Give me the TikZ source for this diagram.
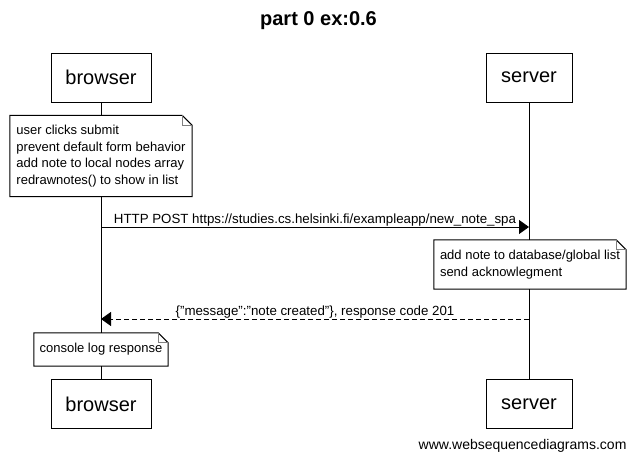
\documentclass[tikz,border=0pt]{standalone}
\usepackage{fontspec}
\setmainfont{Liberation Sans}[Ligatures=ResetAll]
\usetikzlibrary{arrows.meta}

\tikzset{
  actor/.style={draw, line width=1pt, fill=white, minimum height=49pt,
    inner sep=0pt, font=\fontsize{20}{24}\selectfont},
  notebox/.style={fill=white, align=left, inner sep=0pt,
    font=\fontsize{13}{16.5}\selectfont},
  msg/.style={line width=1pt, -{Triangle[length=10pt,width=14pt]}},
  msglabel/.style={midway, above=-3pt, font=\fontsize{13.3}{15}\selectfont},
}
% outline of a note with its folded corner
\newcommand{\notefold}[1]{%
  \draw[line width=1pt] (#1.south west) -- (#1.north west)
    -- ([xshift=-10pt]#1.north east) -- ([yshift=-10pt]#1.north east)
    -- (#1.south east) -- cycle;
  \draw[gray, line width=0.8pt] ([xshift=-10pt]#1.north east)
    -- ([xshift=-10pt,yshift=-10pt]#1.north east) -- ([yshift=-10pt]#1.north east);
}

\begin{document}
\begin{tikzpicture}[x=1pt, y=-1pt]
  \useasboundingbox (0,0) rectangle (635,463);

  \node[font=\bfseries\fontsize{20}{24}\selectfont] (title) at (318.5,21) {part 0 ex:0.6};

  % Participants, top and bottom
  \foreach \name/\x/\w in {browser/101/100, server/529/86} {
    \node[actor, minimum width=\w pt] (\name Top) at (\x,77.5) {\name};
    \node[actor, minimum width=\w pt] (\name Bot) at (\x,404) {\name};
    \draw[line width=1pt] (\name Top.south) -- (\name Bot.north); % lifeline
  }

  % Define coordinates
  \coordinate (postFrom) at (101,227);
  \coordinate (postTo) at (529,227);
  \coordinate (ackFrom) at (529,319);
  \coordinate (ackTo) at (101,319);

  % Notes
  \node[notebox, minimum width=182pt, minimum height=81pt] (noteSubmit) at (101,156)
    {user clicks submit\\prevent default form behavior\\add note to local nodes array\\redrawnotes() to show in list};
  \notefold{noteSubmit}
  \node[notebox, minimum width=192pt, minimum height=49pt] (noteSave) at (530,264.5)
    {add note to database/global list\\send acknowlegment};
  \notefold{noteSave}
  \node[notebox, minimum width=134pt, minimum height=33pt] (noteLog) at (101,349.5)
    {console log response};
  \notefold{noteLog}

  % Messages
  \draw[msg] (postFrom) -- (postTo)
    node[msglabel] {HTTP POST https://studies.cs.helsinki.fi/exampleapp/new\_note\_spa};
  \draw[msg, dash pattern=on 5pt off 3pt] (ackFrom) -- (ackTo)
    node[msglabel] {\{"message":"note created"\}, response code 201};

  \node[anchor=east, font=\fontsize{14}{16}\selectfont] (footer) at (630,446) {www.websequencediagrams.com};
\end{tikzpicture}
\end{document}
